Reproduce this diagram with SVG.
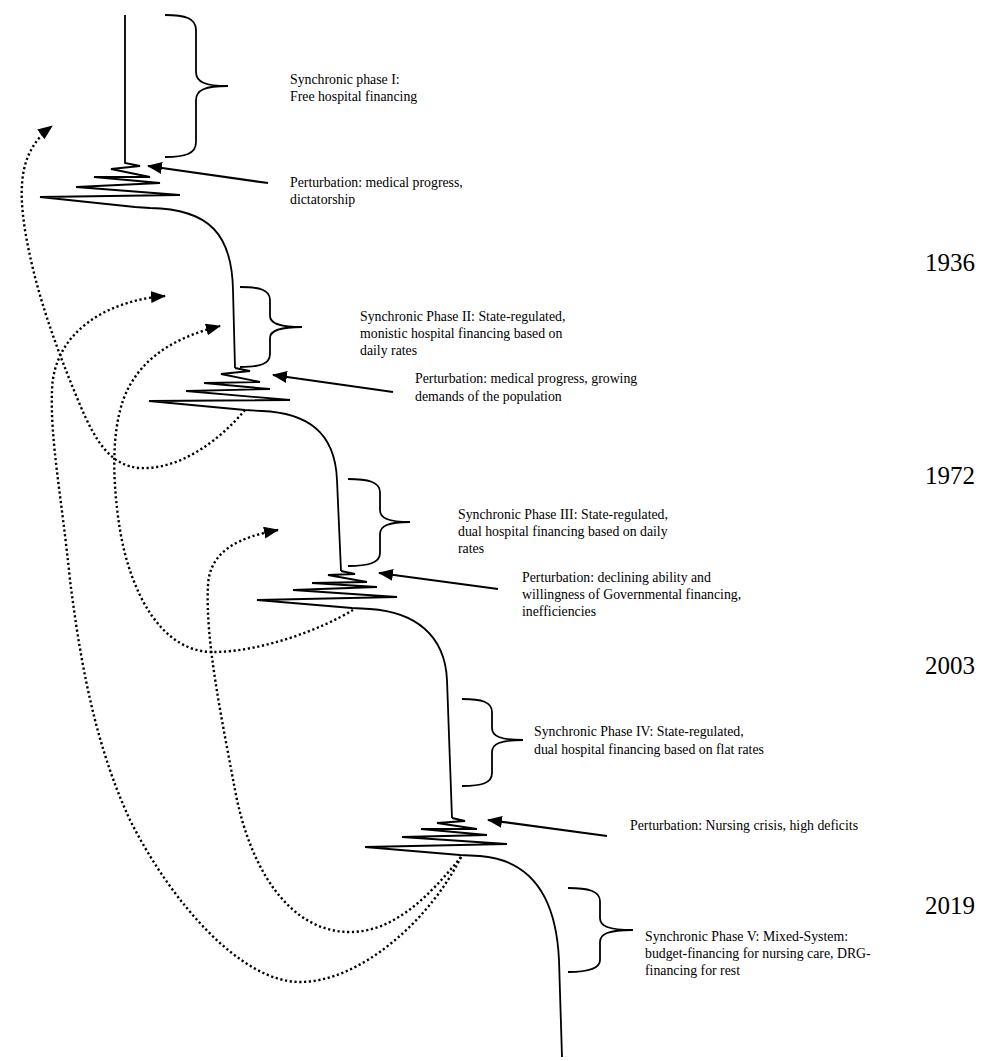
<svg xmlns="http://www.w3.org/2000/svg" width="1007" height="1061" viewBox="0 0 1007 1061">
  <style>
    .line { fill: none; stroke: #000; stroke-width: 1.8; stroke-linejoin: miter; }
    .brace { fill: none; stroke: #000; stroke-width: 1.8; }
    .dots { fill: none; stroke: #000; stroke-width: 2.4; stroke-dasharray: 2.2 2.6; }
    .push { fill: none; stroke: #000; stroke-width: 2.2; }
    .label { font-family: "Liberation Serif", "Times New Roman", serif; font-size: 13.8px; fill: #000; }
    .year { font-family: "Liberation Serif", "Times New Roman", serif; font-size: 25px; fill: #000; }
  </style>
  <defs>
    <marker id="head" markerUnits="userSpaceOnUse" markerWidth="16" markerHeight="13" refX="14" refY="6" orient="auto">
      <path d="M0,0 L15,6 L0,12 z" fill="#000"/>
    </marker>
  </defs>
  <rect width="1007" height="1061" fill="#fff"/>

  <!-- timeline: stable phases joined by perturbation zigzags -->
  <g id="timeline">
    <path class="line" d="M125,15 V163 L140,166 L111,169 L150,177 L94,177 L160,183 L76,187 L180,195 L40,197 L135,207 L150,208 C210,209 232,235 233,290 L235,368"/>
    <path class="line" d="M235,368 L250,371 L221,374 L260,382 L204,383 L270,389 L186,391 L290,400 L149,401 L245,410 L262,411 C305,413 335,430 337,480 L341,571"/>
    <path class="line" d="M341,571 L355,574 L328,575 L367,582 L312,583 L377,587 L293,590 L397,597 L257,600 L352,608 L370,609 C415,612 445,635 447,680 L452,818"/>
    <path class="line" d="M452,818 L465,821 L437,823 L477,829 L421,829 L487,835 L402,837 L507,844 L365,847 L460,855 L480,856 C530,860 556,895 559,960 L562,1057"/>
  </g>

  <!-- phase I -->
  <g id="phase1">
    <path class="brace" d="M165,15 C185,15 196,18 196,30 V72 C196,82 205,86 228,86 C205,86 196,90 196,100 V142 C196,154 185,157 165,157"/>
    <text class="label" x="290" y="84">Synchronic phase I:</text>
    <text class="label" x="290" y="101">Free hospital financing</text>
  </g>
  <g id="perturbation1">
    <text class="label" x="290" y="187">Perturbation: medical progress,</text>
    <text class="label" x="290" y="204">dictatorship</text>
  </g>

  <!-- phase II -->
  <g id="phase2">
    <path class="brace" d="M240,287 C260,287 270,290 270,300 V316 C270,323 278,327 302,327 C278,327 270,331 270,338 V354 C270,364 260,367 240,367"/>
    <text class="label" x="360" y="321">Synchronic Phase II: State-regulated,</text>
    <text class="label" x="360" y="338">monistic hospital financing based on</text>
    <text class="label" x="360" y="355">daily rates</text>
  </g>
  <g id="perturbation2">
    <text class="label" x="415" y="383">Perturbation: medical progress, growing</text>
    <text class="label" x="415" y="401">demands of the population</text>
  </g>

  <!-- phase III -->
  <g id="phase3">
    <path class="brace" d="M348,479 C368,479 380,482 380,492 V510 C380,518 388,522 410,522 C388,522 380,526 380,534 V553 C380,563 368,566 348,566"/>
    <text class="label" x="458" y="519">Synchronic Phase III: State-regulated,</text>
    <text class="label" x="458" y="536">dual hospital financing based on daily</text>
    <text class="label" x="458" y="553">rates</text>
  </g>
  <g id="perturbation3">
    <text class="label" x="522" y="582">Perturbation: declining ability and</text>
    <text class="label" x="522" y="599">willingness of Governmental financing,</text>
    <text class="label" x="522" y="616">inefficiencies</text>
  </g>

  <!-- phase IV -->
  <g id="phase4">
    <path class="brace" d="M462,699 C482,699 492,702 492,712 V728 C492,736 500,740 523,740 C500,740 492,744 492,752 V773 C492,783 482,786 462,786"/>
    <text class="label" x="534" y="736">Synchronic Phase IV: State-regulated,</text>
    <text class="label" x="534" y="754">dual hospital financing based on flat rates</text>
  </g>
  <g id="perturbation4">
    <text class="label" x="630" y="830">Perturbation: Nursing crisis, high deficits</text>
  </g>

  <!-- phase V -->
  <g id="phase5">
    <path class="brace" d="M568,888 C588,888 600,891 600,901 V918 C600,926 608,930 633,930 C608,930 600,934 600,942 V960 C600,969 588,972 568,972"/>
    <text class="label" x="645" y="941">Synchronic Phase V: Mixed-System:</text>
    <text class="label" x="645" y="958">budget-financing for nursing care, DRG-</text>
    <text class="label" x="645" y="975">financing for rest</text>
  </g>

  <!-- years -->
  <g id="years">
    <text class="year" x="925" y="271">1936</text>
    <text class="year" x="925" y="484">1972</text>
    <text class="year" x="925" y="674">2003</text>
    <text class="year" x="925" y="914">2019</text>
  </g>

  <!-- connectors: perturbation pushes and feedback loops -->
  <g id="connectors">
    <path class="push" marker-end="url(#head)" d="M268,183 L148,166"/>
    <path class="push" marker-end="url(#head)" d="M393,392 L273,375"/>
    <path class="push" marker-end="url(#head)" d="M498,589 L379,573"/>
    <path class="push" marker-end="url(#head)" d="M607,836 L488,820"/>

    <path class="dots" marker-end="url(#head)" d="M245,410 C220,440 180,470 140,468 C110,466 95,440 80,405 C55,345 35,290 25,230 C18,185 20,150 52,126"/>
    <path class="dots" marker-end="url(#head)" d="M461,857 C430,920 360,982 300,982 C240,982 170,900 130,820 C95,745 80,660 70,580 C62,500 50,440 52,390 C54,330 110,300 165,296"/>
    <path class="dots" marker-end="url(#head)" d="M353,610 C320,630 260,652 213,652 C160,652 130,590 120,530 C112,480 110,420 130,385 C150,350 185,335 220,326"/>
    <path class="dots" marker-end="url(#head)" d="M461,857 C430,895 395,932 350,932 C290,932 250,870 235,790 C222,720 205,640 208,585 C210,550 240,537 278,530"/>
  </g>
</svg>
